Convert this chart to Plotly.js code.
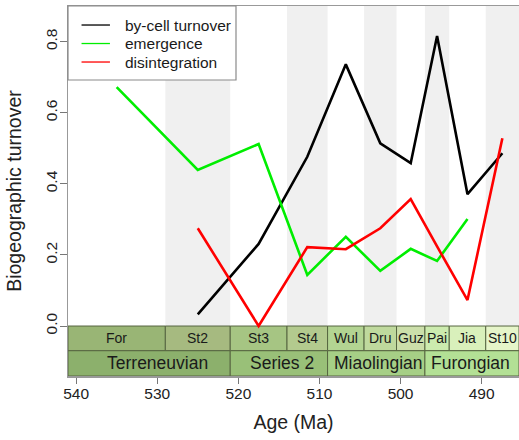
<!DOCTYPE html>
<html>
<head>
<meta charset="utf-8">
<script src="https://cdn.plot.ly/plotly-3.0.1.min.js"></script>
<style>
  html, body { margin: 0; padding: 0; background: #ffffff; }
  #chart { width: 519px; height: 440px; }
</style>
</head>
<body>
<div id="chart"></div>
<script>
// Cambrian stages (Ma): names, older and younger boundaries, midpoint ages, ICS colours
const stageNames = ['For', 'St2', 'St3', 'St4', 'Wul', 'Dru', 'Guz', 'Pai', 'Jia', 'St10'];
const stageStart = [541, 529, 521, 514, 509, 504.5, 500.5, 497, 494, 489.5];
const stageEnd   = [529, 521, 514, 509, 504.5, 500.5, 497, 494, 489.5, 485.4];
const stageMid   = [535, 525, 517.5, 511.5, 506.75, 502.5, 498.75, 495.5, 491.75, 487.45];
const stageColors = ['#99B575', '#A6BA80', '#A6C583', '#B3CA8E', '#B3D492',
                     '#BFD99D', '#CCDFAA', '#CCEBAE', '#D9F0BB', '#E6F5C9'];

// Cambrian series
const seriesNames = ['Terreneuvian', 'Series 2', 'Miaolingian', 'Furongian'];
const seriesStart = [541, 521, 509, 497];
const seriesEnd   = [521, 509, 497, 485.4];
const seriesLabelAge = [530, 514.6, 502.7, 491.4];
const seriesColors = ['#8CB06C', '#99C078', '#A6CF86', '#B3E095'];

// Turnover metrics per stage
const turnover       = [null, 0.033, 0.231, 0.476, 0.736, 0.514, 0.458, 0.816, 0.371, 0.486];
const emergence      = [0.672, 0.439, 0.512, 0.144, 0.251, 0.155, 0.217, 0.183, 0.301, null];
const disintegration = [null, 0.275, 0.000, 0.222, 0.216, 0.275, 0.357, 0.224, 0.073, 0.528];

const metricNames  = ['by-cell turnover', 'emergence', 'disintegration'];
const metricValues = [turnover, emergence, disintegration];
const metricColors = ['#000000', '#00ee00', '#ff0000'];

const xTicks = [540, 530, 520, 510, 500, 490];
const yTicks = [0, 0.2, 0.4, 0.6, 0.8];
const yTickText = ['0.0', '0.2', '0.4', '0.6', '0.8'];

// y-range: the lower strip (below 0) holds the time scale
const yMin = -0.1406, yMax = 0.9002, rowSplit = -0.0695;
const xRange = [541, 485.4];

const traces = metricValues.map((vals, i) => ({
  type: 'scatter',
  mode: 'lines',
  x: stageMid,
  y: vals,
  name: metricNames[i],
  line: { color: metricColors[i], width: 2.6 },
  connectgaps: false,
  showlegend: false,
  hoverinfo: 'skip'
}));

const shapes = [];
const annotations = [];
const font = 'Liberation Sans, Arial, Helvetica, sans-serif';

// alternating grey bands for every second stage
stageNames.forEach((s, i) => {
  if (i % 2 === 1) {
    shapes.push({
      type: 'rect', xref: 'x', yref: 'y', layer: 'below',
      x0: stageStart[i], x1: stageEnd[i], y0: 0, y1: yMax,
      fillcolor: '#f0f0f0', line: { width: 0 }
    });
  }
});

// time scale: stages row
stageNames.forEach((s, i) => {
  shapes.push({
    type: 'rect', xref: 'x', yref: 'y', layer: 'below',
    x0: stageStart[i], x1: stageEnd[i], y0: rowSplit, y1: 0,
    fillcolor: stageColors[i], line: { color: '#566541', width: 1 }
  });
  annotations.push({
    xref: 'x', yref: 'y', x: stageMid[i], y: rowSplit / 2,
    text: s, showarrow: false, xanchor: 'center', yanchor: 'middle',
    font: { family: font, size: 14, color: '#1a1a1a' }
  });
});

// time scale: series row
seriesNames.forEach((s, i) => {
  shapes.push({
    type: 'rect', xref: 'x', yref: 'y', layer: 'below',
    x0: seriesStart[i], x1: seriesEnd[i], y0: yMin, y1: rowSplit,
    fillcolor: seriesColors[i], line: { color: '#566541', width: 1 }
  });
  annotations.push({
    xref: 'x', yref: 'y', x: seriesLabelAge[i], y: (yMin + rowSplit) / 2,
    text: s, showarrow: false, xanchor: 'center', yanchor: 'middle',
    font: { family: font, size: 17.5, color: '#1a1a1a' }
  });
});

// legend box in the top-left corner
shapes.push({
  type: 'rect', xref: 'paper', yref: 'paper', layer: 'above',
  x0: 0, x1: 0.3725, y0: 0.80, y1: 1,
  fillcolor: '#ffffff', line: { color: '#8a8a8a', width: 1.2 }
});
const legendRows = [0.9486, 0.8986, 0.8486];
metricNames.forEach((n, i) => {
  shapes.push({
    type: 'line', xref: 'paper', yref: 'paper', layer: 'above',
    x0: 0.030, x1: 0.093, y0: legendRows[i], y1: legendRows[i],
    line: { color: metricColors[i], width: 1.3 }
  });
  annotations.push({
    xref: 'paper', yref: 'paper', x: 0.121, y: legendRows[i],
    text: n, showarrow: false, xanchor: 'left', yanchor: 'middle',
    font: { family: font, size: 15.5, color: '#1a1a1a' }
  });
});

const layout = {
  width: 519,
  height: 440,
  margin: { l: 68, r: 0, t: 6, b: 64, pad: 0 },
  paper_bgcolor: '#ffffff',
  plot_bgcolor: '#ffffff',
  showlegend: false,
  font: { family: font, color: '#222222' },
  xaxis: {
    range: xRange,
    tickvals: xTicks,
    ticktext: xTicks.map(String),
    ticks: 'outside', ticklen: 6, tickwidth: 1, tickcolor: '#777777',
    ticklabelstandoff: -3,
    showline: true, mirror: true, linecolor: '#999999', linewidth: 1.5,
    showgrid: false, zeroline: false,
    tickfont: { family: font, size: 15.5, color: '#222222' },
    title: { text: 'Age (Ma)', font: { family: font, size: 19.5, color: '#222222' }, standoff: 14 },
    automargin: false
  },
  yaxis: {
    range: [yMin, yMax],
    tickvals: yTicks,
    ticktext: yTickText,
    tickangle: -90,
    ticks: 'outside', ticklen: 7, tickwidth: 1, tickcolor: '#777777',
    ticklabelstandoff: -4,
    showline: true, mirror: true, linecolor: '#999999', linewidth: 1.5,
    showgrid: false, zeroline: false,
    tickfont: { family: font, size: 15.5, color: '#222222' },
    title: { text: 'Biogeographic turnover', font: { family: font, size: 19.5, color: '#222222' }, standoff: 16 },
    automargin: false
  },
  shapes: shapes,
  annotations: annotations
};

Plotly.newPlot('chart', traces, layout, { staticPlot: true, displayModeBar: false });
</script>
</body>
</html>
